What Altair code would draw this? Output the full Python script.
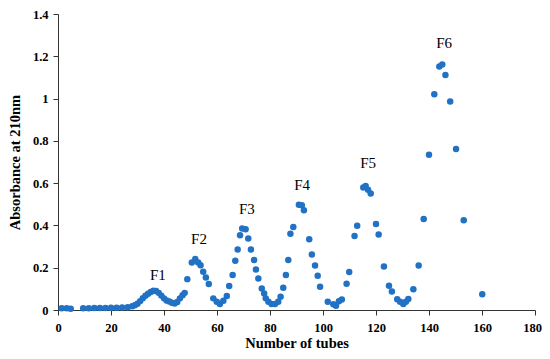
import altair as alt
import pandas as pd

tubes = [1.4, 3.3, 4.8,
         9.5, 11.6, 13.7, 15.8, 17.9, 20.0, 22.1, 24.2, 26.3,
         28, 29, 30, 31, 32, 33, 34, 35, 36, 37, 38, 39, 40, 41, 42, 43, 44, 45, 46, 47, 47.8,
         48.8, 50.5, 51.8, 52.9, 53.8, 54.8, 55.8, 56.9, 58.6, 59.9, 61.1, 62.4, 63.7,
         64.6, 65.9, 66.9, 67.8, 68.7, 69.5, 70.8, 71.8, 72.8, 74.0, 74.7, 75.6, 76.9, 77.8,
         78.4, 79.4, 80.6, 81.9, 83.1, 84.0, 85.0, 86.0, 86.9, 87.7, 88.8, 90.9, 92.0, 92.8,
         94.8, 95.8, 97.0, 98.0, 98.9, 101.8, 103.9, 104.9, 106.0, 107.1, 108.9, 109.9,
         111.9, 112.9, 115.2, 116.1, 117.0, 118.0, 120.0, 121.0, 123.0, 124.9, 126.0,
         128.0, 129.1, 130.3, 131.3, 132.2, 134.1, 136.1, 138.0, 140.0, 142.0, 143.9,
         145.0, 146.2, 148.0, 150.2, 153.1, 160.1]
absorbance = [0.008, 0.008, 0.006,
              0.008, 0.008, 0.009, 0.010, 0.010, 0.011, 0.011, 0.012, 0.013,
              0.018, 0.022, 0.030, 0.042, 0.056, 0.067, 0.077, 0.085, 0.091, 0.090, 0.081, 0.068, 0.055, 0.045, 0.040, 0.034, 0.031, 0.038, 0.055, 0.070, 0.081,
              0.146, 0.225, 0.241, 0.225, 0.212, 0.181, 0.154, 0.123, 0.055, 0.039, 0.028, 0.044, 0.066,
              0.113, 0.165, 0.233, 0.286, 0.354, 0.385, 0.382, 0.338, 0.286, 0.236, 0.192, 0.149, 0.102, 0.078,
              0.055, 0.039, 0.028, 0.028, 0.039, 0.063, 0.105, 0.165, 0.236, 0.361, 0.393, 0.498, 0.495, 0.472,
              0.335, 0.263, 0.211, 0.162, 0.110, 0.039, 0.027, 0.020, 0.041, 0.050, 0.124, 0.180,
              0.350, 0.399, 0.579, 0.587, 0.569, 0.551, 0.407, 0.357, 0.206, 0.115, 0.087,
              0.051, 0.039, 0.028, 0.039, 0.052, 0.098, 0.211, 0.430, 0.734, 1.020, 1.152,
              1.161, 1.111, 0.986, 0.762, 0.425, 0.074]

label_text = ["F1", "F2", "F3", "F4", "F5", "F6"]
label_x = [37.7, 53.2, 71.3, 92.1, 117.0, 145.7]
label_y = [0.165, 0.335, 0.476, 0.59, 0.693, 1.264]

df = pd.DataFrame({"tube": tubes, "abs": absorbance})
lab = pd.DataFrame({"text": label_text, "x": label_x, "y": label_y})

FONT = "Liberation Serif"

xscale = alt.Scale(domain=[0, 180], nice=False)
yscale = alt.Scale(domain=[0, 1.4], nice=False)

points = alt.Chart(df).mark_circle(size=42, opacity=1, color="#2171c4").encode(
    x=alt.X("tube:Q", scale=xscale,
            axis=alt.Axis(title="Number of tubes", values=list(range(0, 181, 20)),
                          grid=False, tickSize=5, labelPadding=6, titlePadding=3,
                          labelFlush=False,
                          labelOffset={"expr": "datum.value == 180 ? -3 : 0"})),
    y=alt.Y("abs:Q", scale=yscale,
            axis=alt.Axis(title="Absorbance at 210nm", values=[0, 0.2, 0.4, 0.6, 0.8, 1.0, 1.2, 1.4],
                          format="~g", grid=False, tickSize=5, labelPadding=5, titlePadding=10)),
)

labels = alt.Chart(lab).mark_text(font=FONT, fontSize=15, color="black", baseline="middle").encode(
    x=alt.X("x:Q", scale=xscale),
    y=alt.Y("y:Q", scale=yscale),
    text="text:N",
)

chart = alt.layer(points, labels).properties(
    width=477, height=296,
    autosize=alt.AutoSizeParams(type="none"),
    padding={"left": 50, "top": 6, "right": 7, "bottom": 40},
).configure_view(stroke=None).configure_axis(
    domainColor="#333333", tickColor="#333333",
    labelFont=FONT, labelFontSize=12.5, labelFontWeight="bold", labelColor="black",
    titleFont=FONT, titleFontSize=14.5, titleFontWeight="bold", titleColor="black",
)

chart.save("out.html", embed_options={"renderer": "svg", "actions": False})
